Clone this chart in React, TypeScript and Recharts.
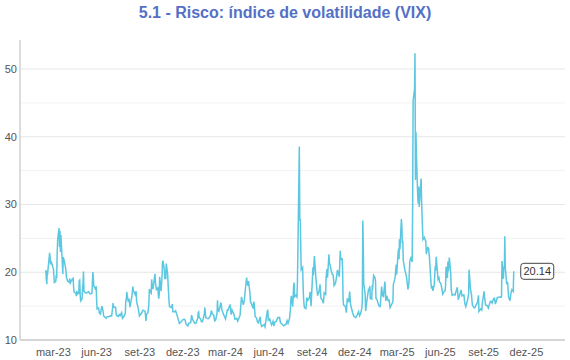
import { LineChart, Line, XAxis, YAxis, ReferenceLine } from 'recharts';

const dates2023 = [
  '02-13', '02-14', '02-15', '02-16', '02-17', '02-21', '02-22', '02-23', '02-24', '02-27',
  '02-28', '03-01', '03-02', '03-03', '03-06', '03-07', '03-08', '03-09', '03-10', '03-13',
  '03-14', '03-15', '03-16', '03-17', '03-20', '03-21', '03-22', '03-23', '03-24', '03-27',
  '03-28', '03-29', '03-30', '03-31', '04-03', '04-05', '04-06', '04-10', '04-12', '04-13',
  '04-14', '04-17', '04-18', '04-19', '04-20', '04-21', '04-24', '04-25', '04-26', '04-27',
  '04-28', '05-01', '05-02', '05-03', '05-04', '05-05', '05-08', '05-10', '05-12', '05-15',
  '05-17', '05-19', '05-22', '05-23', '05-24', '05-25', '05-26', '05-30', '05-31', '06-01',
  '06-02', '06-05', '06-07', '06-09', '06-12', '06-14', '06-16', '06-21', '06-23', '06-27',
  '06-30', '07-03', '07-06', '07-07', '07-11', '07-13', '07-17', '07-19', '07-21', '07-24',
  '07-26', '07-28', '08-01', '08-02', '08-03', '08-04', '08-07', '08-09', '08-11', '08-15',
  '08-17', '08-18', '08-22', '08-24', '08-25', '08-29', '08-31', '09-05', '09-07', '09-12',
  '09-14', '09-15', '09-18', '09-20', '09-21', '09-22', '09-25', '09-26', '09-27', '09-29',
  '10-03', '10-04', '10-06', '10-09', '10-11', '10-12', '10-13', '10-16', '10-18', '10-19',
  '10-20', '10-23', '10-24', '10-25', '10-26', '10-27', '10-30', '10-31', '11-01', '11-02',
  '11-03', '11-07', '11-09', '11-10', '11-14', '11-16', '11-20', '11-24', '11-28', '11-30',
  '12-04', '12-06', '12-08', '12-12', '12-14', '12-18', '12-20', '12-22', '12-27', '12-29',
];
const vix2023 = [
  20.34, 18.91, 18.23, 20.17, 20.02, 22.87, 22.29, 21.14, 21.67, 20.95,
  20.7, 20.58, 19.59, 18.49, 18.61, 19.59, 19.11, 22.61, 24.8, 26.52,
  23.73, 26.14, 22.99, 25.51, 21.38, 19.75, 22.26, 21.93, 21.74, 20.6,
  19.97, 19.12, 19.02, 18.7, 18.55, 19.08, 18.4, 18.97, 19.09, 17.77,
  17.07, 16.95, 16.83, 16.46, 17.27, 16.77, 16.89, 18.76, 18.84, 16.67,
  15.78, 16.08, 17.78, 18.34, 20.09, 17.19, 16.98, 16.94, 17.03, 17.12,
  16.87, 16.81, 16.91, 18.53, 20.03, 19.14, 17.95, 17.46, 17.94, 15.65,
  14.6, 14.73, 13.94, 13.83, 15.01, 14.5, 13.54, 13.2, 13.44, 13.43,
  13.59, 13.57, 15.44, 14.83, 14.84, 13.61, 13.48, 13.76, 13.6, 14.02,
  13.19, 13.33, 13.93, 15.88, 15.92, 17.1, 15.77, 15.96, 14.84, 16.46,
  17.89, 17.3, 16.7, 17.2, 15.68, 14.45, 13.57, 14.02, 14.4, 14.23,
  12.82, 13.79, 14.0, 15.14, 17.54, 17.2, 16.9, 18.94, 18.22, 17.52,
  19.78, 18.58, 17.45, 17.7, 16.09, 16.69, 19.32, 17.21, 19.22, 21.4,
  21.71, 20.37, 18.97, 20.19, 18.97, 21.27, 19.75, 18.14, 16.87, 15.66,
  14.91, 14.81, 15.29, 14.17, 14.16, 14.32, 13.41, 12.46, 12.69, 12.92,
  13.08, 12.97, 12.35, 12.07, 12.48, 12.56, 13.67, 13.03, 12.43, 12.45,
];

const dates2024 = [
  '01-02', '01-03', '01-04', '01-05', '01-08', '01-10', '01-12', '01-16', '01-17', '01-18',
  '01-19', '01-22', '01-24', '01-26', '01-29', '01-31', '02-02', '02-05', '02-07', '02-09',
  '02-12', '02-13', '02-14', '02-16', '02-20', '02-21', '02-22', '02-26', '02-28', '03-01',
  '03-05', '03-07', '03-08', '03-11', '03-13', '03-15', '03-19', '03-21', '03-25', '03-27',
  '04-01', '04-02', '04-04', '04-05', '04-08', '04-10', '04-12', '04-15', '04-16', '04-18',
  '04-19', '04-22', '04-23', '04-25', '04-29', '04-30', '05-01', '05-03', '05-06', '05-08',
  '05-10', '05-14', '05-15', '05-17', '05-20', '05-22', '05-24', '05-29', '05-30', '05-31',
  '06-03', '06-05', '06-07', '06-10', '06-12', '06-14', '06-17', '06-20', '06-24', '06-26',
  '06-28', '07-01', '07-03', '07-08', '07-10', '07-12', '07-15', '07-17', '07-18', '07-19',
  '07-22', '07-24', '07-25', '07-26', '07-29', '07-31', '08-01', '08-02', '08-05', '08-06',
  '08-07', '08-08', '08-09', '08-12', '08-13', '08-14', '08-15', '08-16', '08-19', '08-21',
  '08-23', '08-26', '08-28', '08-30', '09-03', '09-04', '09-06', '09-09', '09-11', '09-13',
  '09-16', '09-18', '09-20', '09-23', '09-25', '09-27', '09-30', '10-01', '10-03', '10-04',
  '10-07', '10-08', '10-10', '10-11', '10-14', '10-16', '10-18', '10-21', '10-23', '10-25',
  '10-29', '10-31', '11-01', '11-04', '11-05', '11-06', '11-07', '11-11', '11-13', '11-15',
  '11-18', '11-20', '11-22', '11-26', '11-29', '12-03', '12-05', '12-09', '12-11', '12-13',
  '12-16', '12-17', '12-18', '12-19', '12-20', '12-23', '12-24', '12-27', '12-30', '12-31',
];
const vix2024 = [
  13.2, 14.04, 14.13, 13.35, 13.08, 12.69, 12.7, 13.84, 14.79, 14.13,
  13.3, 13.19, 13.14, 13.26, 13.6, 14.35, 13.85, 13.67, 12.83, 12.93,
  13.93, 15.85, 14.38, 14.24, 15.42, 15.34, 14.54, 13.74, 13.43, 13.11,
  14.46, 14.44, 14.74, 15.23, 13.75, 14.41, 13.82, 13.06, 13.19, 12.78,
  13.65, 14.61, 16.35, 16.03, 15.19, 15.8, 17.31, 19.23, 18.4, 18.0,
  18.71, 16.94, 15.69, 15.37, 14.67, 15.65, 15.39, 13.49, 13.23, 12.69,
  12.55, 13.42, 12.45, 11.99, 12.15, 12.29, 11.93, 14.28, 14.47, 12.92,
  13.11, 12.63, 12.22, 12.74, 12.04, 12.66, 12.75, 13.28, 13.33, 12.55,
  12.44, 12.22, 12.09, 12.37, 12.85, 12.46, 13.12, 14.48, 15.93, 16.52,
  14.91, 18.04, 18.46, 16.39, 16.6, 16.36, 18.59, 23.39, 38.57, 27.71,
  27.85, 23.79, 20.37, 20.71, 18.12, 16.19, 15.23, 14.8, 14.65, 16.27,
  15.86, 16.15, 17.11, 15.0, 20.72, 19.55, 22.38, 19.45, 17.69, 16.56,
  17.14, 18.23, 16.15, 15.89, 15.41, 16.96, 16.73, 19.26, 20.49, 19.21,
  22.64, 21.42, 20.93, 20.46, 19.7, 19.58, 18.03, 18.37, 19.24, 20.33,
  19.34, 23.16, 21.88, 21.98, 20.49, 16.27, 15.2, 14.97, 14.02, 16.14,
  15.58, 17.16, 15.24, 14.1, 13.51, 13.3, 13.54, 14.19, 13.58, 13.81,
  14.69, 15.87, 27.62, 24.09, 18.36, 16.78, 14.27, 15.95, 17.4, 17.35,
];

const dates2025 = [
  '01-02', '01-03', '01-06', '01-07', '01-08', '01-10', '01-13', '01-14', '01-15', '01-17',
  '01-21', '01-23', '01-24', '01-27', '01-29', '01-31', '02-03', '02-05', '02-07', '02-10',
  '02-12', '02-14', '02-18', '02-20', '02-21', '02-24', '02-25', '02-27', '02-28', '03-03',
  '03-04', '03-05', '03-06', '03-07', '03-10', '03-11', '03-12', '03-13', '03-14', '03-17',
  '03-19', '03-21', '03-24', '03-26', '03-28', '03-31', '04-01', '04-02', '04-03', '04-04',
  '04-07', '04-08', '04-09', '04-10', '04-11', '04-14', '04-15', '04-16', '04-17', '04-21',
  '04-22', '04-23', '04-24', '04-25', '04-28', '04-30', '05-01', '05-02', '05-05', '05-07',
  '05-09', '05-12', '05-13', '05-15', '05-16', '05-19', '05-21', '05-22', '05-23', '05-27',
  '05-29', '05-30', '06-02', '06-04', '06-06', '06-09', '06-11', '06-12', '06-13', '06-16',
  '06-17', '06-18', '06-20', '06-23', '06-24', '06-26', '06-30', '07-02', '07-07', '07-09',
  '07-11', '07-15', '07-17', '07-21', '07-23', '07-25', '07-29', '07-31', '08-01', '08-04',
  '08-06', '08-08', '08-12', '08-14', '08-15', '08-19', '08-21', '08-22', '08-26', '08-28',
  '08-29', '09-02', '09-03', '09-05', '09-09', '09-11', '09-15', '09-17', '09-19', '09-22',
  '09-24', '09-26', '09-30', '10-02', '10-06', '10-08', '10-09', '10-10', '10-13', '10-14',
  '10-15', '10-16', '10-17', '10-20', '10-22', '10-24', '10-27', '10-29', '10-31', '11-03',
  '11-04',
];
const vix2025 = [
  17.93, 16.13, 16.04, 17.82, 17.7, 19.54, 19.19, 18.71, 16.12, 15.97,
  15.06, 15.02, 14.85, 17.9, 16.56, 16.43, 18.62, 15.77, 16.54, 15.81,
  15.89, 14.77, 15.35, 15.66, 18.21, 18.98, 19.43, 21.13, 19.63, 22.78,
  23.51, 21.93, 24.87, 23.37, 27.86, 26.92, 24.23, 24.66, 21.77, 20.51,
  19.9, 19.28, 17.48, 18.33, 21.65, 22.28, 21.77, 21.51, 30.02, 45.31,
  46.98, 52.33, 33.62, 40.72, 37.56, 30.89, 30.12, 32.64, 29.65, 33.82,
  30.57, 28.45, 26.47, 24.84, 25.15, 24.7, 24.6, 22.68, 23.64, 23.55,
  21.9, 18.39, 17.72, 17.83, 17.24, 18.14, 20.87, 20.28, 22.29, 18.96,
  19.18, 18.57, 18.36, 17.61, 16.77, 17.16, 17.26, 18.02, 20.82, 19.11,
  21.6, 20.14, 22.17, 19.83, 17.48, 16.59, 16.73, 16.64, 17.79, 15.94,
  16.4, 17.38, 16.52, 16.65, 15.37, 14.93, 15.98, 16.72, 20.38, 17.52,
  16.77, 15.15, 14.73, 14.83, 15.09, 15.57, 16.6, 14.22, 14.62, 14.43,
  15.36, 17.17, 16.35, 15.18, 15.04, 14.71, 15.69, 15.72, 15.45, 16.1,
  16.18, 15.29, 16.28, 16.29, 16.37, 16.3, 16.43, 21.66, 19.03, 20.81,
  20.64, 25.31, 20.78, 18.23, 18.6, 16.37, 15.79, 16.92, 17.44, 17.17,
  20.14,
];

const xTickDates = [
  '2023-03-01', '2023-06-01', '2023-09-01', '2023-12-01',
  '2024-03-01', '2024-06-01', '2024-09-01', '2024-12-01',
  '2025-03-01', '2025-06-01', '2025-09-01', '2025-12-01',
];
const xTickLabels = [
  'mar-23', 'jun-23', 'set-23', 'dez-23',
  'mar-24', 'jun-24', 'set-24', 'dez-24',
  'mar-25', 'jun-25', 'set-25', 'dez-25',
];
const yTicks = [10, 20, 30, 40, 50];
const majorGrid = [20, 30, 40, 50];
const minorGrid = [15, 25, 35, 45];

const ts = (d: string) => Date.parse(d + 'T00:00:00Z');

const data = [
  ...dates2023.map((d, i) => ({ t: ts(`2023-${d}`), vix: vix2023[i] })),
  ...dates2024.map((d, i) => ({ t: ts(`2024-${d}`), vix: vix2024[i] })),
  ...dates2025.map((d, i) => ({ t: ts(`2025-${d}`), vix: vix2025[i] })),
];

const xTicks = xTickDates.map(ts);
const xDomain = [ts('2022-12-20'), ts('2026-02-21')];
const lastIndex = data.length - 1;

const fmtTick = (v: number) => {
  const i = xTicks.indexOf(v);
  return i >= 0 ? xTickLabels[i] : '';
};

const EndLabel = (props: any) => {
  const { x, y, index, value } = props;
  if (index !== lastIndex) return null;
  return (
    <g>
      <rect x={x + 7} y={y - 8} width={33} height={16} rx={3} fill="#fff" stroke="#444" strokeWidth={1} />
      <text x={x + 23.5} y={y + 4} textAnchor="middle" fontSize={11} fill="#333">
        {Number(value).toFixed(2)}
      </text>
    </g>
  );
};

export default function App() {
  return (
    <div
      style={{
        position: 'absolute',
        left: 0,
        top: 0,
        width: 570,
        height: 360,
        background: '#fff',
        fontFamily: '"Liberation Sans", Arial, sans-serif',
      }}
    >
      <div
        style={{
          position: 'absolute',
          top: 3,
          left: 0,
          width: 570,
          textAlign: 'center',
          fontSize: 16,
          lineHeight: '20px',
          fontWeight: 'bold',
          color: '#5470c6',
        }}
      >
        5.1 - Risco: índice de volatilidade (VIX)
      </div>
      <LineChart width={570} height={360} data={data} margin={{ top: 40, right: 5, bottom: 0, left: 0 }}>
        {minorGrid.map((v) => (
          <ReferenceLine key={`mi${v}`} y={v} stroke="#f2f2f2" strokeWidth={1} />
        ))}
        {majorGrid.map((v) => (
          <ReferenceLine key={`ma${v}`} y={v} stroke="#e6e6e6" strokeWidth={1} />
        ))}
        <XAxis
          dataKey="t"
          type="number"
          domain={xDomain}
          allowDataOverflow
          ticks={xTicks}
          interval={0}
          tickFormatter={fmtTick}
          height={20}
          tickLine={false}
          axisLine={{ stroke: '#d6d6d6', strokeWidth: 2 }}
          tick={{ fontSize: 11, fill: '#555' }}
        />
        <YAxis
          domain={[10, 54.28]}
          allowDataOverflow
          ticks={yTicks}
          interval={0}
          width={20}
          tickLine={false}
          tickSize={3}
          tickMargin={0}
          axisLine={{ stroke: '#d0d0d0', strokeWidth: 1.5 }}
          tick={{ fontSize: 11, fill: '#555' }}
        />
        <Line
          type="linear"
          dataKey="vix"
          stroke="#5bc7e0"
          strokeWidth={1.5}
          dot={false}
          isAnimationActive={false}
          label={EndLabel}
        />
      </LineChart>
    </div>
  );
}
